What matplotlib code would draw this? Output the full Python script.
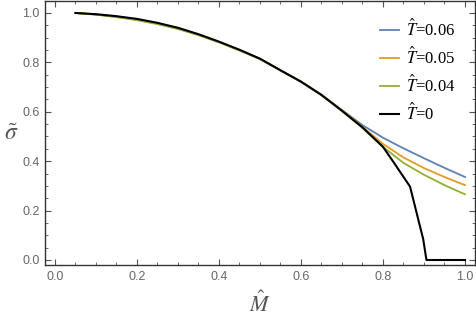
#!/usr/bin/env python
# -*- coding: utf8 -*-

'''Condensate sigma vs M-hat for a few temperatures, Mathematica-like frame'''

import matplotlib
matplotlib.use('Agg')
import matplotlib.pyplot as plt
from matplotlib.ticker import MultipleLocator

# Data
m_grid = [0.05, 0.10, 0.15, 0.20, 0.25, 0.30, 0.35, 0.40, 0.45, 0.50,
          0.55, 0.60, 0.65, 0.70, 0.75, 0.80, 0.85, 0.90, 0.95, 1.00]
sigma_t006 = [1.0, 0.994, 0.985, 0.973, 0.957, 0.937, 0.912, 0.882, 0.850, 0.814,
              0.768, 0.722, 0.669, 0.607, 0.546, 0.495, 0.452, 0.412, 0.373, 0.336]
sigma_t005 = [1.0, 0.994, 0.985, 0.973, 0.957, 0.937, 0.912, 0.882, 0.850, 0.814,
              0.768, 0.722, 0.669, 0.606, 0.539, 0.470, 0.415, 0.372, 0.336, 0.303]
sigma_t004 = [1.0, 0.993, 0.983, 0.971, 0.955, 0.935, 0.910, 0.881, 0.848, 0.813,
              0.767, 0.721, 0.667, 0.603, 0.534, 0.458, 0.393, 0.345, 0.303, 0.266]

m_zero = [0.05, 0.10, 0.15, 0.20, 0.25, 0.30, 0.35, 0.40, 0.45, 0.50,
          0.55, 0.60, 0.65, 0.70, 0.75, 0.80, 0.825, 0.866, 0.898, 0.906, 1.00]
sigma_t0 = [1.0, 0.995, 0.987, 0.976, 0.960, 0.940, 0.914, 0.884, 0.851, 0.815,
            0.768, 0.722, 0.668, 0.604, 0.537, 0.458, 0.398, 0.297, 0.085, 0.0, 0.0]

labels = [r'$\hat{T}$=0.06', r'$\hat{T}$=0.05', r'$\hat{T}$=0.04', r'$\hat{T}$=0']
colors = ['#5e81b5', '#e19c24', '#8fb032', 'black']

plt.rcParams['mathtext.fontset'] = 'stix'

fig = plt.figure(figsize=(4.77, 3.23), dpi=100)
ax = fig.add_axes([0.0943, 0.1796, 0.9015, 0.8174])

for series, col, lab in zip([sigma_t006, sigma_t005, sigma_t004], colors[:3], labels[:3]):
    ax.plot(m_grid, series, color=col, lw=1.3, label=lab)
ax.plot(m_zero, sigma_t0, color=colors[3], lw=1.5, label=labels[3])

ax.set_xlim(-0.0244, 1.0244)
ax.set_ylim(-0.0202, 1.0486)
ax.xaxis.set_major_locator(MultipleLocator(0.2))
ax.xaxis.set_minor_locator(MultipleLocator(0.05))
ax.yaxis.set_major_locator(MultipleLocator(0.2))
ax.yaxis.set_minor_locator(MultipleLocator(0.05))
ax.xaxis.set_major_formatter(matplotlib.ticker.FormatStrFormatter('%.1f'))
ax.yaxis.set_major_formatter(matplotlib.ticker.FormatStrFormatter('%.1f'))

# frame ticks on all sides, pointing in
ax.tick_params(which='both', direction='in', top=True, right=True,
               color='#555555', labelcolor='#666666', labelsize=9,
               labelfontfamily='Liberation Sans')
ax.tick_params(which='major', length=4, width=0.8, pad=4)
ax.tick_params(which='minor', length=2.2, width=0.6)
for sp in ax.spines.values():
    sp.set_color('#333333')
    sp.set_linewidth(1.0)

ax.set_xlabel(r'$\hat{M}$', fontsize=16, color='#555555', labelpad=6)
ax.set_ylabel(r'$\tilde{\sigma}$', fontsize=17, color='#555555', rotation=0,
              labelpad=8, va='center')

ax.legend(loc='upper right', bbox_to_anchor=(0.99, 0.99), frameon=False,
          prop={'family': 'Liberation Serif', 'size': 12},
          handlelength=1.1, handletextpad=0.45, labelspacing=0.42)

plt.savefig('out.png', dpi=100)
